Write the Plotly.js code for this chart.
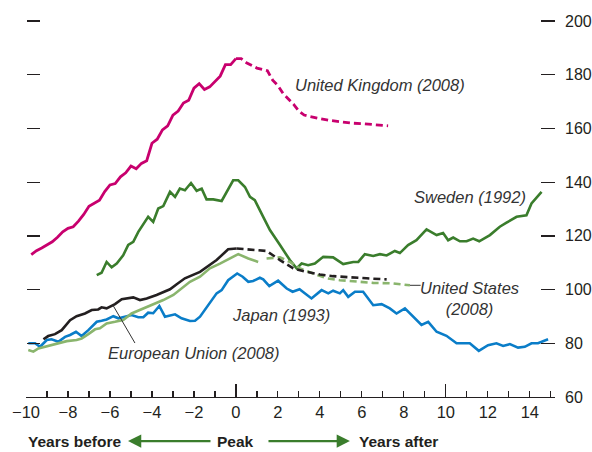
<!DOCTYPE html>
<html><head><meta charset="utf-8">
<script src="https://cdn.plot.ly/plotly-3.0.1.min.js"></script>
<style>body{margin:0;background:#fff}#chart{width:592px;height:452px}</style>
</head><body><div id="chart"></div>
<script>
// United Kingdom (2008)
const ukYearsA = [-9.75,-9.5,-9.25,-9,-8.75,-8.5,-8.25,-8,-7.75,-7.5,-7.25,-7,-6.75,-6.5,-6.25,-6,-5.75,-5.5,-5.25,-5,-4.75,-4.5,-4.25,-4,-3.75,-3.5,-3.25,-3,-2.75,-2.5,-2.25,-2,-1.75,-1.5,-1.25,-1,-0.75,-0.5,-0.25,0];
const ukValsA = [113,114.5,115.5,116.5,117.8,119.5,121.5,122.8,123.4,125.5,128,131,132,133.3,136.5,139,139.5,142,143.5,146,145,147,148,154.5,156,159.5,161,165,166.5,169.5,170.5,175,176.7,174.5,175.5,177.5,179.5,183.8,183.8,186];
const ukYearsB = [0,0.25,0.5,0.75,1,1.25,1.5,1.75,2,2.25,2.5,2.75,3,3.25,3.5,3.75,4,4.5,5,5.5,6,6.5,7,7.25];
const ukValsB = [186,186,184.5,183.5,182.5,182,181.5,178,176,173,171,169,166.5,165,164.5,164,163.7,163,162.4,162,161.8,161.5,161.2,161];
// Sweden (1992)
const seYears = [-6.63,-6.4,-6.16,-5.92,-5.68,-5.37,-5.13,-4.89,-4.65,-4.18,-3.94,-3.7,-3.46,-3.14,-2.9,-2.67,-2.43,-2.14,-1.87,-1.63,-1.4,-1.08,-0.68,-0.13,0.11,0.43,0.67,0.9,1.3,1.62,2.1,2.57,2.89,3.13,3.44,3.76,4.16,4.63,5.11,5.59,5.83,6.14,6.54,6.86,7.18,7.57,7.81,8.2,8.6,9.08,9.56,9.87,10.11,10.35,10.67,10.99,11.3,11.59,12.1,12.57,12.89,13.37,13.84,14.08,14.56];
const seVals = [105.4,106.3,110.3,108.3,109.7,112.8,116.6,117.8,121.5,127.1,125.2,130.2,131.1,136.4,134.5,137.6,137,139.7,136.8,137.6,133.6,133.6,133,140.7,140.7,138.2,134.5,133.3,127.1,122.2,116.6,111,107.9,109.7,109.1,109.7,112.2,112,109.5,110.3,110.3,113.2,112.5,113.2,112.7,114.4,113.6,116.6,118.4,122.4,120.3,121.1,118.4,119.4,118,118,119,118,120.3,123.4,124.9,127.1,127.7,132.1,136.4];
// Japan (1993)
const jpYears = [-9.89,-9.57,-9.33,-9.01,-8.78,-8.46,-8.14,-7.9,-7.62,-7.35,-7.03,-6.63,-6.4,-6.16,-5.84,-5.6,-5.29,-4.97,-4.65,-4.41,-4.18,-3.94,-3.65,-3.38,-2.9,-2.59,-2.19,-1.95,-1.71,-1.4,-0.92,-0.68,-0.37,0.06,0.32,0.59,0.82,1.14,1.3,1.59,2.01,2.42,2.7,3.03,3.6,4.08,4.4,4.63,4.95,5.11,5.35,5.67,6.06,6.54,6.94,7.33,7.65,8.05,8.44,8.84,9.16,9.56,10.03,10.51,11.14,11.57,12.01,12.41,12.73,13.05,13.44,13.76,14.08,14.39,14.87];
const jpVals = [80,80,78.7,81.2,81.5,80.6,82.4,83.1,84.3,82.7,84.9,88,88.4,88.9,90.1,89.3,89.9,90.5,89.7,89.7,91.4,91.2,93.9,89.9,90.8,89.3,88.3,88.4,89.9,93.2,98.6,99.8,103.5,106,104.8,102.9,103.2,104.4,103.8,101.3,103.3,100.4,99.2,100.1,96.7,99.8,98.6,99.6,98.6,99.8,97.3,99.2,99.2,94.2,94.6,93,91.1,93,89.9,86.8,88,84.3,82.8,80,80,77.2,79.3,80,79,79.7,78.4,78.7,80,80,81.5];
// European Union (2008)
const euYearsA = [-9.17,-8.94,-8.62,-8.3,-7.9,-7.59,-7.19,-6.87,-6.56,-6.4,-6.16,-5.76,-5.44,-5.13,-4.89,-4.57,-4.25,-3.78,-3.14,-2.82,-2.43,-1.71,-1.32,-0.92,-0.37,0.03];
const euValsA = [81.5,82.7,83.4,84.9,88.6,90.1,91.1,92.4,92.6,93.4,93,94.6,96.4,96.7,97.1,96.1,96.7,98,100.1,102,104.2,106.6,108.7,111,115,115.3];
const euYearsB = [0.03,0.67,1.46,2.1,2.73,3.37,4,4.63,5.43,6.22,7.18];
const euValsB = [115.3,114.9,114.4,111,107.9,106.6,105.6,105,104.5,104.2,103.8];
// United States (2008)
const usYearsA = [-9.89,-9.65,-9.41,-9.1,-8.7,-8.38,-8.06,-7.59,-7.35,-7.03,-6.71,-6.48,-6.16,-5.76,-5.37,-4.97,-4.57,-4.25,-3.86,-3.46,-2.98,-2.59,-2.19,-1.71,-1.24,-0.76,-0.29,0.11,0.59,1.06];
const usValsA = [77.5,76.9,78.1,78.7,79.7,80.2,80.8,81.2,81.8,83.4,85.2,85.6,87.4,88,88.7,91.1,92.4,93.6,94.9,96.1,98,100.4,102.9,104.8,107.9,109.7,111.6,113.2,111.6,110.3];
const usYearsB = [1.46,2.1,2.57,3.05,3.68,4.32,4.95,5.75,6.54,7.49,8.29];
const usValsB = [111.6,112,110.3,107.9,106,104.2,103.5,102.9,102.5,102.3,101.6];
// Axis ticks
const xTickVals = [-10,-8,-6,-4,-2,0,2,4,6,8,10,12,14];
const xTickText = ['\u221210','\u22128','\u22126','\u22124','\u22122','0','2','4','6','8','10','12','14'];
const yTickVals = [60,80,100,120,140,160,180,200];

const F = '"Liberation Sans", Arial, sans-serif';
const ukC = '#c8006e', seC = '#3a7d2c', jpC = '#0a7dc8', euC = '#231f20', usC = '#8ab56d', arrowC = '#3a7d2c', txtC = '#231f20';

function tr(x, y, color, dash, w) {
  return {x: x, y: y, type: 'scatter', mode: 'lines', showlegend: false, hoverinfo: 'skip',
    line: {color: color, width: w || 2.6, dash: dash || 'solid'}};
}
// invisible carrier so the overlay axes (left ticks, tall x ticks) are drawn
const carrier = {x: ukYearsA, y: ukValsA, xaxis: 'x2', yaxis: 'y2', type: 'scatter', mode: 'lines',
  showlegend: false, hoverinfo: 'skip', opacity: 0, line: {width: 0, color: 'rgba(0,0,0,0)'}};
const data = [
  carrier,
  tr(seYears, seVals, seC),
  tr(jpYears, jpVals, jpC),
  tr(usYearsA, usValsA, usC),
  tr(usYearsB, usValsB, usC, '7px,4px'),
  tr(euYearsA, euValsA, euC),
  tr(euYearsB, euValsB, euC, '7px,4px'),
  tr(ukYearsA, ukValsA, ukC, 'solid', 2.8),
  tr(ukYearsB, ukValsB, ukC, '7px,4px', 2.8)
];

const itf = {family: F, size: 16.5, color: '#333'};
const bf = {family: F, size: 15.5, color: txtC};
const layout = {
  width: 592, height: 452,
  margin: {l: 26, r: 37, t: 20, b: 55},
  paper_bgcolor: '#fff', plot_bgcolor: '#fff',
  font: {family: F, color: txtC},
  xaxis: {range: [-10, 15.2], showgrid: false, zeroline: false, showline: true, linecolor: txtC, linewidth: 1.2,
    tickvals: xTickVals, ticktext: xTickText, ticks: 'inside', ticklen: 6, tickcolor: txtC, tickwidth: 1.2,
    tickfont: {family: F, size: 16.5, color: txtC},
    minor: {dtick: 1, tick0: 0, ticks: 'inside', ticklen: 6, tickcolor: txtC, tickwidth: 1.2}},
  xaxis2: {range: [-10, 15.2], overlaying: 'x', anchor: 'y', showgrid: false, zeroline: false, showline: false,
    tickvals: [-10, 0, 10], ticks: 'inside', ticklen: 13, tickcolor: txtC, tickwidth: 1.2, showticklabels: false},
  yaxis: {range: [60, 200.4], side: 'right', showgrid: false, zeroline: false, showline: false,
    tickvals: yTickVals, ticks: 'inside', ticklen: 14, tickcolor: txtC, tickwidth: 1.3,
    ticklabelstandoff: 9, tickfont: {family: F, size: 16, color: txtC}},
  yaxis2: {range: [60, 200.4], overlaying: 'y', side: 'left', anchor: 'free', position: 0, showgrid: false, zeroline: false, showline: false,
    tickvals: yTickVals.slice(1), ticks: 'inside', ticklen: 13, tickcolor: txtC, tickwidth: 1.3, showticklabels: false},
  shapes: [
    {type: 'line', xref: 'x', yref: 'y', x0: 8.29, y0: 101.6, x1: 8.8, y1: 101.6, line: {color: '#333', width: 1}},
    {type: 'line', xref: 'x', yref: 'y', x0: -5.86, y0: 94.2, x1: -4.81, y1: 80.1, line: {color: '#333', width: 1}}
  ],
  annotations: [
    {text: '<i>United Kingdom (2008)</i>', x: 2.71, y: 176.1, xref: 'x', yref: 'y', xanchor: 'left', yanchor: 'middle', showarrow: false, font: itf},
    {text: '<i>Sweden (1992)</i>', x: 13.9, y: 134.4, xref: 'x', yref: 'y', xanchor: 'right', yanchor: 'middle', showarrow: false, font: itf},
    {text: '<i>United States</i><br><i>(2008)</i>', x: 11.14, y: 96.5, xref: 'x', yref: 'y', xanchor: 'center', yanchor: 'middle', showarrow: false, font: itf},
    {text: '<i>Japan (1993)</i>', x: -0.29, y: 90.5, xref: 'x', yref: 'y', xanchor: 'left', yanchor: 'middle', showarrow: false, font: itf},
    {text: '<i>European Union (2008)</i>', x: -6.19, y: 76.3, xref: 'x', yref: 'y', xanchor: 'left', yanchor: 'middle', showarrow: false, font: itf},
    {text: '<b>Years before</b>', x: -10, y: -0.117, xref: 'x', yref: 'paper', xanchor: 'left', yanchor: 'middle', showarrow: false, font: bf},
    {text: '<b>Peak</b>', x: 0, y: -0.117, xref: 'x', yref: 'paper', xanchor: 'center', yanchor: 'middle', showarrow: false, font: bf},
    {text: '<b>Years after</b>', x: 5.76, y: -0.117, xref: 'x', yref: 'paper', xanchor: 'left', yanchor: 'middle', showarrow: false, font: bf},
    {text: '', x: -5.14, y: -0.117, xref: 'x', yref: 'paper', ax: -1.14, ay: 0, axref: 'x', ayref: 'pixel', showarrow: true, arrowhead: 2, arrowsize: 1.1, arrowwidth: 2.4, arrowcolor: arrowC},
    {text: '', x: 5.43, y: -0.117, xref: 'x', yref: 'paper', ax: 1.48, ay: 0, axref: 'x', ayref: 'pixel', showarrow: true, arrowhead: 2, arrowsize: 1.1, arrowwidth: 2.4, arrowcolor: arrowC}
  ]
};
Plotly.newPlot('chart', data, layout, {displayModeBar: false, staticPlot: true});
</script></body></html>
